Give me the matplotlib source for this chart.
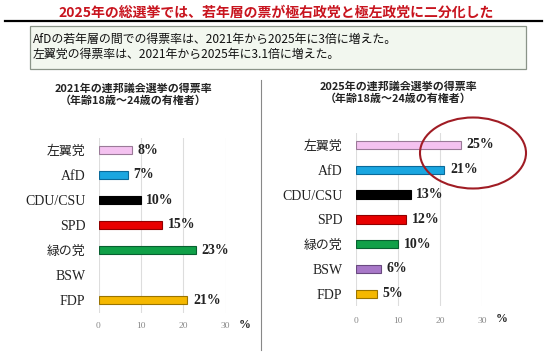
import matplotlib.pyplot as plt
from matplotlib.patches import Rectangle, Ellipse
from matplotlib.lines import Line2D

plt.rcParams['font.family'] = ['Liberation Serif', 'Noto Sans CJK JP', 'DejaVu Sans']

parties = ['左翼党', 'AfD', 'CDU/CSU', 'SPD', '緑の党', 'BSW', 'FDP']
votes_2021 = [8, 7, 10, 15, 23, 0, 21]
votes_2025 = [25, 21, 13, 12, 10, 6, 5]
colors = ['#f4c2f0', '#1aa6e0', '#000000', '#e80000', '#10a048', '#a878c8', '#f5b800']
edges = ['#9a7a98', '#0a6a9a', '#000000', '#900000', '#086030', '#6a4a80', '#9a7400']
ticks = [0, 10, 20, 30]

title = '2025年の総選挙では、若年層の票が極右政党と極左政党に二分化した'
note1 = 'AfDの若年層の間での得票率は、2021年から2025年に3倍に増えた。'
note2 = '左翼党の得票率は、2021年から2025年に3.1倍に増えた。'
sub_2021 = '2021年の連邦議会選挙の得票率\n（年齢18歳～24歳の有権者）'
sub_2025 = '2025年の連邦議会選挙の得票率\n（年齢18歳～24歳の有権者）'

W, H = 550, 357
fig = plt.figure(figsize=(5.5, 3.57), dpi=100)
fig.patch.set_facecolor('white')

def fx(px):
    return px / W

def fy(py):
    return 1 - py / H

# header
fig.text(fx(276), fy(13), title, ha='center', va='center', fontsize=10,
         color='#c8141e', fontweight='bold', family=['Noto Sans CJK JP'])
fig.add_artist(Line2D([fx(5), fx(542)], [fy(21), fy(21)], color='black', lw=1.6))
fig.add_artist(Rectangle((fx(30), fy(69)), fx(496), (69 - 26) / H, facecolor='#f2f7ef',
                         edgecolor='#8a9488', lw=0.9))
fig.text(fx(33), fy(39), note1, ha='left', va='center', fontsize=8.6,
         family=['Noto Sans CJK JP'], color='#111111')
fig.text(fx(33), fy(54), note2, ha='left', va='center', fontsize=8.6,
         family=['Noto Sans CJK JP'], color='#111111')

fig.text(fx(133), fy(95), sub_2021, ha='center', va='center', fontsize=7.9,
         fontweight='bold', family=['Noto Sans CJK JP'], linespacing=1.2, color='#222222')
fig.text(fx(398), fy(93), sub_2025, ha='center', va='center', fontsize=7.9,
         fontweight='bold', family=['Noto Sans CJK JP'], linespacing=1.2, color='#222222')

fig.add_artist(Line2D([fx(261), fx(261)], [fy(80), fy(350)], color='#888888', lw=0.8))


def draw(ax, values, lab_gap):
    y = [i for i, v in enumerate(values) if v > 0]
    vals = [values[i] for i in y]
    ax.barh(y, vals, height=0.34, color=[colors[i] for i in y],
            edgecolor=[edges[i] for i in y], linewidth=0.8, zorder=3)
    ax.set_ylim(len(parties) - 0.5, -0.5)
    ax.set_xlim(0, 30)
    ax.set_xticks(ticks)
    ax.set_xticklabels([str(t) for t in ticks], fontsize=6.8, color='#888888')
    ax.tick_params(axis='x', length=0, pad=lab_gap)
    ax.set_yticks(range(len(parties)))
    ax.set_yticklabels(parties, fontsize=10, color='#222222')
    for lab in ax.get_yticklabels():
        if not lab.get_text().isascii():
            lab.set_fontsize(9.3)
    ax.tick_params(axis='y', length=0, pad=9.5)
    ax.grid(axis='x', color='#dddddd', lw=0.8, zorder=0)
    for s in ax.spines.values():
        s.set_visible(False)
    for yi, v in zip(y, vals):
        ax.annotate(f'{v}%', (v, yi), xytext=(4, 0), textcoords='offset points',
                    ha='left', va='center', fontsize=10, fontweight='bold',
                    color='#222222', annotation_clip=False)
    ax.annotate('%', (30, len(parties) - 0.5), xytext=(14, -9), textcoords='offset points',
                ha='center', va='center', fontsize=8.5, fontweight='bold',
                color='#222222', annotation_clip=False)


ax1 = fig.add_axes([fx(98.5), fy(312.5), fx(127), 175 / H])
draw(ax1, votes_2021, 7)

ax2 = fig.add_axes([fx(355.7), fy(306.2), fx(126.6), 173.6 / H])
draw(ax2, votes_2025, 8)

fig.add_artist(Ellipse((fx(473), fy(153)), fx(106), 71 / H, fill=False,
                       edgecolor='#a01c24', lw=1.5))

fig.savefig('out.png', dpi=100)
